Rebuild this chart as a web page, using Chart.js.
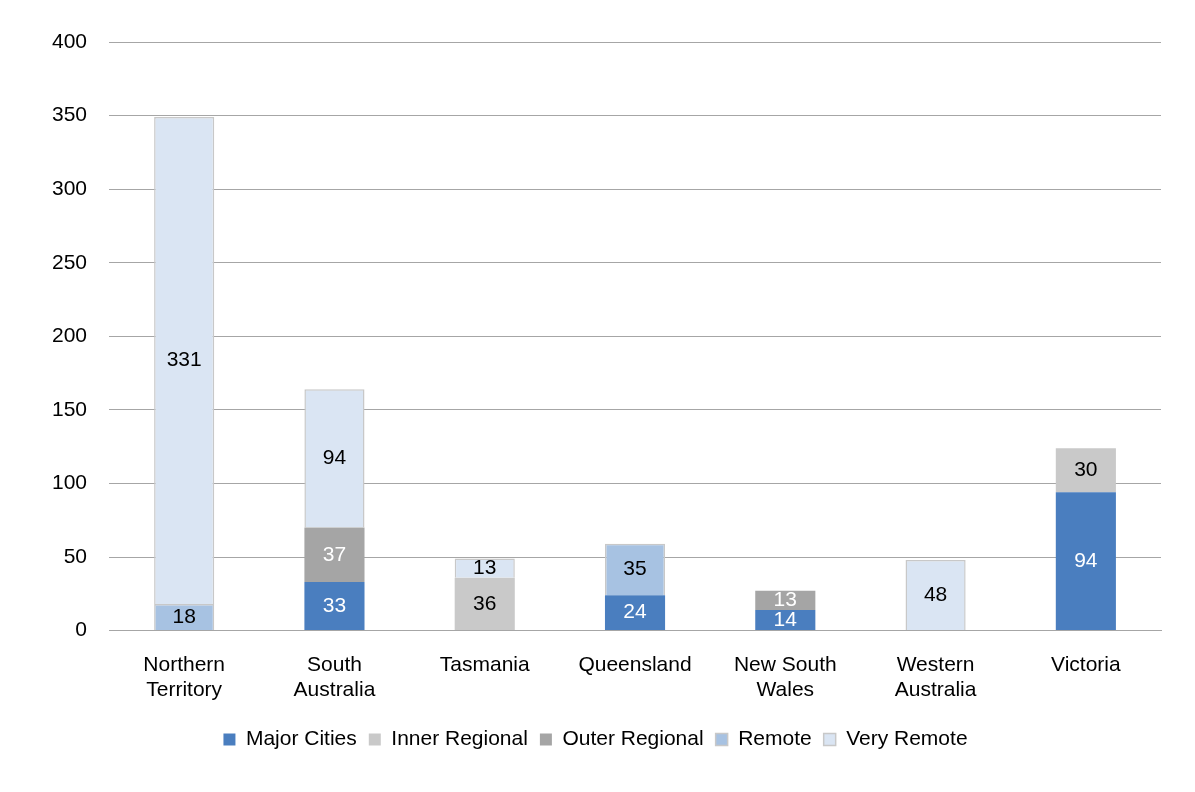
<!DOCTYPE html>
<html>
<head>
<meta charset="utf-8">
<script src="https://cdn.jsdelivr.net/npm/chart.js@4"></script>
<style>
  body { margin: 0; background: #fff; }
  #wrap { width: 1195px; height: 792px; }
</style>
</head>
<body>
<div id="wrap"><canvas id="myChart"></canvas></div>
<script>
const categorias = [["Northern", "Territory"], ["South", "Australia"], "Tasmania", "Queensland", ["New South", "Wales"], ["Western", "Australia"], "Victoria"];
const majorCities = [null, 33, null, 24, 14, null, 94];
const innerRegional = [null, null, 36, null, null, null, 30];
const outerRegional = [null, 37, null, null, 13, null, null];
const remote = [18, null, null, 35, null, null, null];
const veryRemote = [331, 94, 13, null, null, 48, null];

const series = [
  { label: "Major Cities", data: majorCities, color: "#4a7ebf", text: "#ffffff" },
  { label: "Inner Regional", data: innerRegional, color: "#c9c9c9", text: "#000000" },
  { label: "Outer Regional", data: outerRegional, color: "#a5a5a5", text: "#ffffff" },
  { label: "Remote", data: remote, color: "#a7c2e2", text: "#000000" },
  { label: "Very Remote", data: veryRemote, color: "#dae5f3", text: "#000000" },
];

// etiquetas de datos dibujadas a mano
const etiquetas = {
  id: "etiquetas",
  afterDatasetsDraw(chart) {
    const ctx = chart.ctx;
    ctx.save();
    ctx.font = "21px 'Liberation Sans', Arial, sans-serif";
    ctx.textAlign = "center";
    ctx.textBaseline = "middle";
    chart.data.datasets.forEach((ds, i) => {
      chart.getDatasetMeta(i).data.forEach((bar, j) => {
        const v = ds.data[j];
        if (v == null) return;
        ctx.fillStyle = series[i].text;
        ctx.fillText(v, bar.x, (bar.y + bar.base) / 2);
      });
    });
    ctx.restore();
  },
};

const fuente = { size: 21, family: "'Liberation Sans', Arial" };

const config = {
  type: "bar",
  data: {
    labels: categorias,
    datasets: series.map((s) => ({
      label: s.label,
      data: s.data,
      backgroundColor: s.color,
      borderColor: "#c8c8c8",
      borderWidth: s.label === "Very Remote" || s.label === "Remote" ? 1.5 : 0,
      barPercentage: 0.4,
      categoryPercentage: 1,
    })),
  },
  options: {
    responsive: false,
    animation: false,
    layout: { padding: { left: 30, right: 34, top: 42, bottom: 32 } },
    scales: {
      x: {
        stacked: true,
        grid: { display: false },
        border: { color: "#a6a6a6" },
        ticks: { color: "#000", padding: 14, font: fuente },
      },
      y: {
        stacked: true,
        min: 0,
        max: 400,
        ticks: { stepSize: 50, color: "#000", padding: 22, font: fuente },
        grid: { color: "#a6a6a6", drawTicks: false },
        border: { display: false },
      },
    },
    plugins: {
      tooltip: { enabled: false },
      legend: {
        position: "bottom",
        labels: {
          color: "#000",
          boxWidth: 12,
          boxHeight: 12,
          padding: 12,
          font: fuente,
        },
      },
    },
  },
  plugins: [etiquetas],
};

const canvas = document.getElementById("myChart");
canvas.width = 1195;
canvas.height = 792;
new Chart(canvas, config);
</script>
</body>
</html>
